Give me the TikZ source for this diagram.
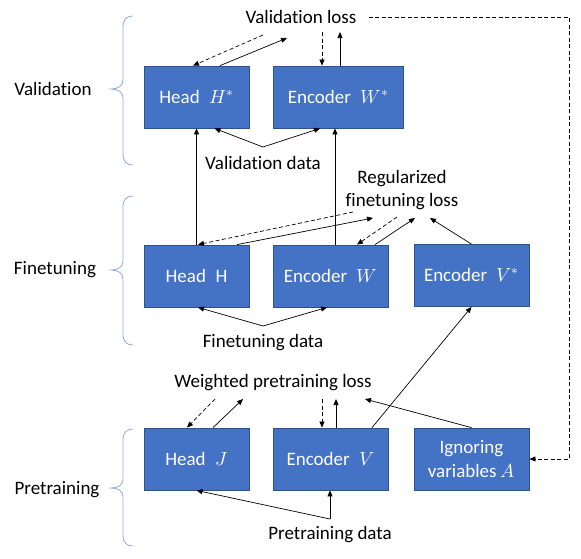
\documentclass[tikz,border=0pt]{standalone}
\usepackage{fontspec}
\usepackage{unicode-math}
\setmainfont{Carlito}[Ligatures=NoCommon]
\setmathfont{Latin Modern Math}
\usetikzlibrary{arrows.meta}
\definecolor{boxblue}{HTML}{4472C4}
\definecolor{boxedge}{HTML}{2F528F}
\definecolor{bracecol}{HTML}{8FAADC}
\newcommand\drawbrace[3]{%
  \draw[bracepath] (133,#1) .. controls (127,#1) and (123,#1+3) .. (123,#1+11)
    -- (123,#2-9) .. controls (123,#2-3) and (118,#2) .. (111,#2)
    .. controls (118,#2) and (123,#2+3) .. (123,#2+9)
    -- (123,#3-11) .. controls (123,#3-3) and (127,#3) .. (133,#3);}
\begin{document}
\begin{tikzpicture}[x=1pt,y=-1pt,
  every node/.style={font=\fontsize{19}{23.5}\selectfont, inner sep=0pt},
  blk/.style={draw=boxedge, line width=0.8pt, fill=boxblue, text=white, minimum height=62pt, align=center},
  lbl/.style={text=black, align=center},
  conn/.style={line width=0.7pt, -{Triangle[length=6pt,width=5pt]}},
  dconn/.style={conn, dash pattern=on 4pt off 2.5pt},
  bracepath/.style={draw=bracecol, line width=0.8pt}
]
\useasboundingbox (0,0) rectangle (581,558);

% boxes
\node[blk, minimum width=105pt] (hv) at (196.5,97) {Head\hspace{0.5em}$H^*$};
\node[blk, minimum width=130pt] (ev) at (338,97) {Encoder\hspace{0.5em}$W^*$};
\node[blk, minimum width=105pt] (hf) at (196.5,276) {Head\hspace{0.5em}$\mathrm{H}$};
\node[blk, minimum width=115pt] (ef) at (330.5,276) {Encoder\hspace{0.5em}$W$};
\node[blk, minimum width=115pt] (vs) at (471.5,275.5) {Encoder\hspace{0.5em}$V^*$};
\node[blk, minimum width=105pt] (hp) at (196.5,459) {Head\hspace{0.5em}$J$};
\node[blk, minimum width=115pt] (ep) at (330.5,459) {Encoder\hspace{0.5em}$V$};
\node[blk, minimum width=115pt] (ig) at (471.5,459) {Ignoring\\variables $A$};

% labels
\node[lbl] (vloss) at (301,17) {Validation loss};
\node[lbl] (rloss) at (402,190) {Regularized\\finetuning loss};
\node[lbl] (wloss) at (273,383) {Weighted pretraining loss};
\node[lbl] (vdata) at (263,163) {Validation data};
\node[lbl] (fdata) at (263,343) {Finetuning data};
\node[lbl] (pdata) at (330,535) {Pretraining data};
\node[lbl] (tval) at (53,89) {Validation};
\node[lbl] (tfin) at (55,270) {Finetuning};
\node[lbl] (tpre) at (57,490) {Pretraining};

% braces
\drawbrace{16}{89}{165}
\drawbrace{196}{270}{345}
\drawbrace{429}{488}{546}

% validation connectors
\coordinate (va) at (263,35);
\coordinate (vb) at (287,38);
\coordinate (vc) at (322,32);
\coordinate (vd) at (340,32);
\coordinate (ve) at (263,147);
\draw[dconn] (va) -- ([xshift=-3.5pt]hv.north);
\draw[conn] ([xshift=23.5pt]hv.north) -- (vb);
\draw[dconn] (vc) -- (vc |- ev.north);
\draw[conn] (vd |- ev.north) -- (vd);
\draw[conn] (ve) -- ([xshift=18pt]hv.south);
\draw[conn] (ve) -- ([xshift=-18pt]ev.south);
\draw[conn] (hf.north) -- (hv.south);
\draw[conn] ([xshift=4.5pt]ef.north) -- ([xshift=4.5pt]ef.north |- ev.south);

% finetuning connectors
\coordinate (fa) at (353,212);
\coordinate (fb) at (373,218);
\coordinate (fc) at (397,217);
\coordinate (fd) at (415,218);
\coordinate (fe) at (430,218);
\coordinate (ff) at (263,326);
\draw[dconn] (fa) -- ([xshift=1.5pt]hf.north);
\draw[conn] ([xshift=40.5pt]hf.north) -- (fb);
\draw[dconn] (fc) -- ([xshift=26.5pt]ef.north);
\draw[conn] ([xshift=44.5pt]ef.north) -- (fd);
\draw[conn] (vs.north) -- (fe);
\draw[conn] (ff) -- ([xshift=1.5pt]hf.south);
\draw[conn] (ff) -- ([xshift=-3.5pt]ef.south);
\draw[conn] ([xshift=41.5pt]ep.north) -- (vs.south);

% pretraining connectors
\coordinate (pa) at (215,399);
\coordinate (pb) at (243,399);
\coordinate (pc) at (322,399);
\coordinate (pd) at (336,399);
\coordinate (pe) at (365,399);
\coordinate (pf) at (330,519);
\draw[dconn] (pa) -- ([xshift=-9.5pt]hp.north);
\draw[conn] ([xshift=16.5pt]hp.north) -- (pb);
\draw[dconn] (pc) -- (pc |- ep.north);
\draw[conn] (pd |- ep.north) -- (pd);
\draw[conn] (ig.north) -- (pe);
\draw[conn] (pf) -- (hp.south);
\draw[conn] (pf) -- (pf |- ep.south);

% feedback from validation loss to ignoring variables
\coordinate (ra) at (569,17);
\draw[dconn] ([xshift=12pt]vloss.east) -- (ra) |- (ig.east);
\end{tikzpicture}
\end{document}
